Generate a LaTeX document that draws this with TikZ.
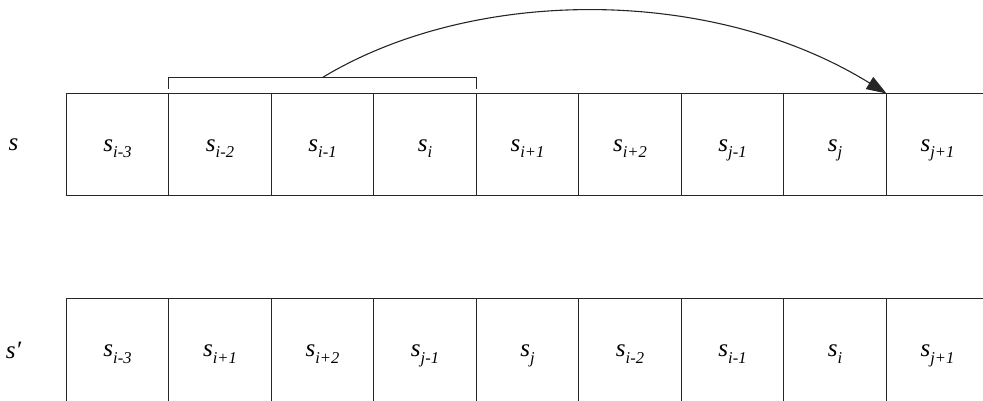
\documentclass[tikz,border=0pt]{standalone}
\usepackage{fontspec}
\setmainfont{Liberation Serif}
\usetikzlibrary{arrows.meta,calc}
\newcommand{\sv}[1]{s\raisebox{-7pt}{\fontsize{16.5}{18}\selectfont #1}}
\begin{document}
\begin{tikzpicture}[x=1pt,y=1pt,
  line/.style={draw=black!85, line width=1.1pt},
  cell/.style={line, minimum width=102pt, inner sep=0pt, outer sep=0pt,
    anchor=north west, text height=57.5pt, text depth=44.5pt,
    font=\fontsize{25}{28}\selectfont\itshape},
  wcell/.style={cell, minimum width=103pt},
  lowcell/.style={cell, text depth=46.5pt},
  wlowcell/.style={lowcell, minimum width=103pt},
  lbl/.style={inner sep=0pt, anchor=base, font=\fontsize{25}{28}\selectfont\itshape},
  arc/.style={line, -{Triangle[length=20pt,width=14pt]}}]
\useasboundingbox (0,0) rectangle (983,400);
% row s
\node[lbl] (ls) at (13.5,249.3) {s};
\node[cell] (a1) at (66.5,306.5) {\sv{i-3}};
\node[wcell] (a2) at (a1.north east) {\sv{i-2}};
\node[cell] (a3) at (a2.north east) {\sv{i-1}};
\node[wcell] (a4) at (a3.north east) {\sv{i}};
\node[cell] (a5) at (a4.north east) {\sv{i+1}};
\node[wcell] (a6) at (a5.north east) {\sv{i+2}};
\node[cell] (a7) at (a6.north east) {\sv{j-1}};
\node[wcell] (a8) at (a7.north east) {\sv{j}};
\node[cell] (a9) at (a8.north east) {\sv{j+1}};
% row s'
\node[lbl] (lt) at (13.5,41.3) {s′};
\node[lowcell] (b1) at (66.5,101.5) {\sv{i-3}};
\node[wlowcell] (b2) at (b1.north east) {\sv{i+1}};
\node[lowcell] (b3) at (b2.north east) {\sv{i+2}};
\node[wlowcell] (b4) at (b3.north east) {\sv{j-1}};
\node[lowcell] (b5) at (b4.north east) {\sv{j}};
\node[wlowcell] (b6) at (b5.north east) {\sv{i-2}};
\node[lowcell] (b7) at (b6.north east) {\sv{i-1}};
\node[wlowcell] (b8) at (b7.north east) {\sv{i}};
\node[lowcell] (b9) at (b8.north east) {\sv{j+1}};
% bracket over s_{i-2} .. s_i
\coordinate (bl) at ([yshift=16pt]a2.north west);
\coordinate (br) at ([yshift=16pt]a4.north east);
\coordinate (brk) at ($(bl)!0.5!(br)$);
\draw[line] ([yshift=5pt]a2.north west) -- (bl) -- (br) -- ([yshift=5pt]a4.north east);
% arc
\draw[arc] (brk) .. controls (472,413) and (711,415) .. (a9.north west);
\end{tikzpicture}
\end{document}
